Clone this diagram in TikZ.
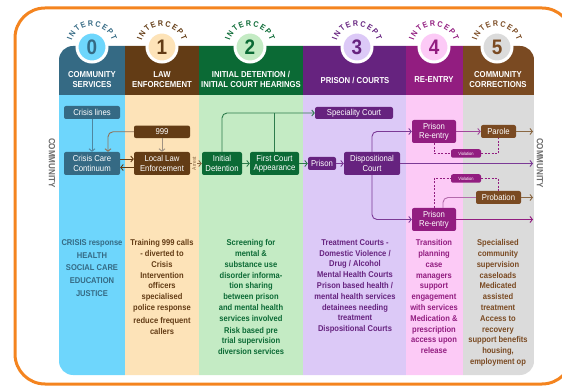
\documentclass[tikz,border=0pt]{standalone}
\usepackage{fontspec}
\setmainfont{Liberation Sans}[FakeStretch=0.9]
\newfontfamily\digitfont{Liberation Sans}[FakeStretch=0.9]
\usetikzlibrary{arrows.meta,decorations.text}

\definecolor{frame}{HTML}{F4841F}
\definecolor{hd0}{HTML}{356A84}
\definecolor{bg0}{HTML}{6ED6FC}
\definecolor{hd1}{HTML}{633C15}
\definecolor{bg1}{HTML}{FDE3B8}
\definecolor{hd2}{HTML}{0B6A35}
\definecolor{bg2}{HTML}{C4EBC4}
\definecolor{hd3}{HTML}{66237F}
\definecolor{bg3}{HTML}{DCC9F7}
\definecolor{hd4}{HTML}{921D80}
\definecolor{bg4}{HTML}{FCCAF6}
\definecolor{hd5}{HTML}{7A4A22}
\definecolor{bg5}{HTML}{DBDBDB}
\definecolor{comm}{HTML}{6B6B6B}
\definecolor{blu}{HTML}{4F86A0}
\definecolor{tan}{HTML}{8F7258}
\definecolor{tanlight}{HTML}{A09282}
\definecolor{grn}{HTML}{2D7C4C}
\definecolor{pur}{HTML}{7B3A96}
\definecolor{mag}{HTML}{A0489A}
\definecolor{maglight}{HTML}{B46AAC}
\definecolor{brn}{HTML}{8A6844}

\begin{document}
\begin{tikzpicture}[x=1pt, y=-1pt, >={Straight Barb[length=2.5pt,width=6pt]},
	box/.style={rounded corners=2pt, text=white, align=center, inner sep=0pt, font=\fontsize{8.6}{9.3}\selectfont},
	wide/.style={minimum width=56pt, minimum height=23pt},
	slim/.style={minimum height=13pt},
	head/.style={text=white, align=center, font=\bfseries\fontsize{8.6}{9.3}\selectfont},
	info/.style={anchor=north, align=center, font=\bfseries\fontsize{8.4}{10.8}\selectfont},
	disk/.style={circle, draw=white, line width=3pt, minimum size=30pt, inner sep=0pt, font=\digitfont\bfseries\fontsize{21}{21}\selectfont},
	viol/.style={box, minimum width=30pt, minimum height=8.5pt, font=\fontsize{4.5}{5}\selectfont},
	link/.style={line width=0.9pt, ->},
	dots/.style={line width=0.9pt, dash pattern=on 2pt off 1.5pt, hd4},
	side/.style={rotate=-90, text=comm, font=\bfseries\fontsize{9}{9}\selectfont}]

	\useasboundingbox (0,0) rectangle (562,387);
	\clip (0,0) rectangle (562,387);
	\draw[frame, line width=3pt, rounded corners=30pt] (15,8) rectangle (572,384);

	% columns
	\begin{scope}
		\clip[rounded corners=14pt] (59,46) rectangle (534,375);
		\foreach \i/\xa/\xb in {0/59/125,1/125/199,2/199/303,3/303/406,4/406/463,5/463/534} {
			\fill[hd\i] (\xa,40) rectangle (\xb,95);
			\fill[bg\i] (\xa,95) rectangle (\xb,380);
		}
	\end{scope}

	% intercept badges
	\foreach \i/\cx in {0/92,1/162,2/250,3/357,4/434,5/497} {
		\node[disk, fill=bg\i, text=hd\i] (n\i) at (\cx,47) {\i};
		\path[decorate, decoration={text along path, text align={fit to path},
			text={|\color{hd\i}\bfseries\fontsize{8}{8}\selectfont|INTERCEPT}}]
			(n\i.center) ++(-163:21) arc[start angle=-163, end angle=-17, radius=21];
	}

	\path (92,79.5) node[head] (h0) {COMMUNITY\\SERVICES}
		(162,79.5) node[head] (h1) {LAW\\ENFORCEMENT}
		(251,79.5) node[head] (h2) {INITIAL DETENTION /\\INITIAL COURT HEARINGS}
		(355,80) node[head] (h3) {PRISON / COURTS}
		(434,80) node[head] (h4) {RE-ENTRY}
		(498,79.5) node[head] (h5) {COMMUNITY\\CORRECTIONS};

	\path (52,163) node[side] (cl0) {COMMUNITY}
		(540,163) node[side] (cl1) {COMMUNITY};

	% flow boxes
	\path (92,112.5) node[box, fill=hd0, minimum width=56pt, slim] (cl) {Crisis lines}
		(92,163.5) node[box, fill=hd0, wide] (ccc) {Crisis Care\\Continuum}
		(162,131.8) node[box, fill=hd1, minimum width=56pt, minimum height=12.5pt] (n999) {999}
		(162,163.5) node[box, fill=hd1, wide] (lle) {Local Law\\Enforcement}
		(222,163.5) node[box, fill=hd2, wide, minimum width=40pt] (idt) {Initial\\Detention}
		(274.5,163.5) node[box, fill=hd2, wide, minimum width=49pt] (fca) {First Court\\Appearance}
		(354,113) node[box, fill=hd3, minimum width=78pt, minimum height=12pt] (spc) {Speciality Court}
		(322,163.5) node[box, fill=hd3, minimum width=28pt, slim] (pri) {Prison}
		(372,163.5) node[box, fill=hd3, wide] (dsc) {Dispositional\\Court}
		(434,131.5) node[box, fill=hd4, wide, minimum width=44pt] (pr1) {Prison\\Re-entry}
		(498.5,131.5) node[box, fill=hd5, minimum width=35pt, slim] (par) {Parole}
		(466,153.5) node[viol, fill=hd4] (vi1) {Violation}
		(466,178.5) node[viol, fill=hd4] (vi2) {Violation}
		(498.5,197.5) node[box, fill=hd5, minimum width=45pt, slim] (prb) {Probation}
		(434,219.5) node[box, fill=hd4, wide, minimum width=44pt] (pr2) {Prison\\Re-entry};

	\coordinate (out1) at (533,163.5);
	\coordinate (out2) at (533,131.5);
	\coordinate (out3) at (533,197.5);
	\coordinate (out4) at (533,219.5);

	% connectors
	\draw[link, blu] (cl) -- (ccc);
	\draw[link, tan, rounded corners=5pt] (n999.west) -| ([xshift=16pt]ccc.north);
	\draw[link, tanlight] (n999) -- (lle);
	\draw[link, hd1] ([yshift=4.5pt]ccc.east) -- ([yshift=4.5pt]lle.west);
	\draw[link, hd1] ([yshift=-4pt]lle.west) -- ([yshift=-4pt]ccc.east);
	\draw[link, brn] (lle.east) -- node[pos=0.35, rotate=90, fill=bg1, inner sep=0.4pt, text=brn, font=\fontsize{5.5}{5.5}\selectfont] (arr) {Arrest} (idt.west);

	\draw[link, grn] (idt) -- (fca);
	\draw[link, grn, rounded corners=5pt] (idt.north) |- (spc.west);
	\draw[line width=0.9pt, grn] (fca.north) -- (fca.north |- spc.west);
	\draw[link, grn] (fca) -- (pri);

	\draw[link, pur] (pri) -- (dsc);
	\draw[link, pur] (dsc.east) -- (out1);
	\draw[link, pur, rounded corners=5pt] (dsc.north) |- (pr1.west);
	\draw[link, pur, rounded corners=5pt] (dsc.south) |- (pr2.west);

	\draw[link, mag] (pr1) -- (par);
	\draw[link, brn] (par.east) -- (out2);
	\draw[dots] (pr1.south) |- (vi1.west);
	\draw[dots] (vi1.east) -| (par.south);

	\draw[dots] (pr2.north) |- (vi2.west);
	\draw[dots] (vi2.east) -| (prb.north);
	\draw[line width=0.9pt, maglight, rounded corners=5pt] ([xshift=9pt]pr2.north) |- (prb.west);
	\draw[link, brn] (prb.east) -- (out3);
	\draw[link, hd4] (pr2.east) -- (out4);

	% column notes
	\path (92,236) node[info, text=hd0, font=\bfseries\fontsize{8.4}{12.7}\selectfont] (t0) {CRISIS response\\HEALTH\\SOCIAL CARE\\EDUCATION\\JUSTICE}
		(162,236) node[info, text=hd1] (t1) {Training 999 calls\\- diverted to\\Crisis\\Intervention\\officers\\specialised\\police response\\[2pt]reduce frequent\\callers}
		(251,236) node[info, text=hd2] (t2) {Screening for\\mental \&\\substance use\\disorder informa-\\tion sharing\\between prison\\and mental health\\services involved\\[1pt]Risk based pre\\trial supervision\\diversion services}
		(355,236) node[info, text=hd3] (t3) {Treatment Courts -\\Domestic Violence /\\Drug / Alcohol\\Mental Health Courts\\Prison based health /\\mental health services\\detainees needing\\treatment\\Dispositional Courts}
		(434,236) node[info, text=hd4] (t4) {Transition\\planning\\case\\managers\\support\\engagement\\with services\\Medication \&\\prescription\\access upon\\release}
		(498,236) node[info, text=hd5] (t5) {Specialised\\community\\supervision\\caseloads\\Medicated\\assisted\\treatment\\Access to\\recovery\\support benefits\\housing,\\employment op};

\end{tikzpicture}
\end{document}
